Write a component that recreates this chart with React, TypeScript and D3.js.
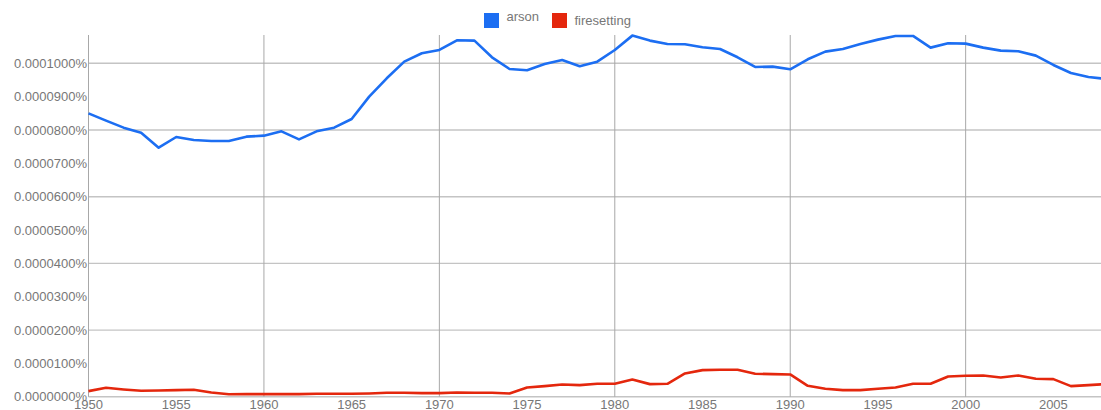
import React, { useRef, useEffect } from 'react';
import * as d3 from 'd3';

const years: number[] = d3.range(1950, 2009);

// values in percent
const arson: number[] = [
  850, 828, 807, 792, 747, 779, 770, 767, 767, 780,
  783, 796, 772, 796, 807, 833, 900, 955, 1005, 1030,
  1040, 1069, 1068, 1018, 983, 979, 998, 1010, 991, 1005,
  1040, 1083, 1068, 1058, 1057, 1048, 1043, 1018, 989, 990,
  982, 1012, 1035, 1043, 1058, 1071, 1082, 1082, 1047, 1060,
  1059, 1047, 1038, 1036, 1023, 995, 971, 959, 953,
].map(v => v * 1e-7);

const firesetting: number[] = [
  17, 27, 22, 18, 19, 20, 21, 13, 7.5, 8,
  8, 8, 8, 9, 9, 9, 10, 12, 12, 11,
  11, 13, 12, 12, 10, 28, 32, 37, 35, 39,
  39, 52, 38, 39, 70, 80, 81, 81, 69, 68,
  67, 33, 24, 20, 20, 24, 28, 39, 39, 61,
  63, 64, 58, 64, 54, 53, 32, 35, 38,
].map(v => v * 1e-7);

const seriesNames = ['arson', 'firesetting'];
const seriesColors = ['#1c6ef2', '#e4270d'];
const xTicks: number[] = d3.range(1950, 2010, 5);
const xGrid: number[] = d3.range(1950, 2010, 10);
const yTicks: number[] = d3.range(0, 11).map(i => i * 1e-5);
const yGrid: number[] = d3.range(0, 6).map(i => i * 2e-5);

const App = () => {
  const svgRef = useRef<SVGSVGElement>(null);

  const w = 1101;
  const h = 410;
  const left = 88.5;
  const top = 35;
  const bottom = 396.8;

  useEffect(() => {
    const svg = d3.select(svgRef.current);
    svg.selectAll('*').remove();

    const x = d3.scaleLinear().domain([1950, 2008]).range([left, 1106]);
    const y = d3.scaleLinear().domain([0, 1e-4]).range([bottom, 63.3]);
    const font = '"Liberation Sans", Arial, Helvetica, sans-serif';

    // horizontal grid
    svg.append('g')
      .selectAll('line')
      .data(yGrid)
      .enter()
      .append('line')
      .attr('x1', left)
      .attr('x2', w)
      .attr('y1', d => y(d))
      .attr('y2', d => y(d))
      .attr('stroke', '#c4c4c4')
      .attr('stroke-width', 1.4);

    // vertical grid
    svg.append('g')
      .selectAll('line')
      .data(xGrid)
      .enter()
      .append('line')
      .attr('x1', d => x(d))
      .attr('x2', d => x(d))
      .attr('y1', top)
      .attr('y2', bottom)
      .attr('stroke', '#a8a8a8')
      .attr('stroke-width', 1);

    // y labels
    svg.append('g')
      .selectAll('text')
      .data(yTicks)
      .enter()
      .append('text')
      .attr('x', 87)
      .attr('y', d => y(d) + 4.5)
      .attr('text-anchor', 'end')
      .attr('font-family', font)
      .attr('font-size', 13)
      .attr('fill', '#777')
      .text(d => d.toFixed(7) + '%');

    // x labels
    svg.append('g')
      .selectAll('text')
      .data(xTicks)
      .enter()
      .append('text')
      .attr('x', d => x(d))
      .attr('y', 409)
      .attr('text-anchor', 'middle')
      .attr('font-family', font)
      .attr('font-size', 13)
      .attr('fill', '#777')
      .text(d => d);

    const line = d3.line<number>()
      .x((_, i) => x(years[i]))
      .y(d => y(d));

    [arson, firesetting].forEach((s, i) => {
      svg.append('path')
        .datum(s)
        .attr('d', line)
        .attr('fill', 'none')
        .attr('stroke', seriesColors[i])
        .attr('stroke-width', 2.6)
        .attr('stroke-linejoin', 'round');
    });

    // legend
    const legendX = [484, 552];
    const legendTextY = [20.5, 24.5];
    seriesNames.forEach((name, i) => {
      svg.append('rect')
        .attr('x', legendX[i])
        .attr('y', 13)
        .attr('width', 15)
        .attr('height', 15)
        .attr('fill', seriesColors[i]);
      svg.append('text')
        .attr('x', legendX[i] + 22.5)
        .attr('y', legendTextY[i])
        .attr('font-family', font)
        .attr('font-size', 13)
        .attr('fill', '#777')
        .text(name);
    });
  }, []);

  return (
    <svg
      ref={svgRef}
      width={w}
      height={h}
      style={{ position: 'absolute', left: 0, top: 0, background: '#fff' }}
    ></svg>
  );
};

export default App;
